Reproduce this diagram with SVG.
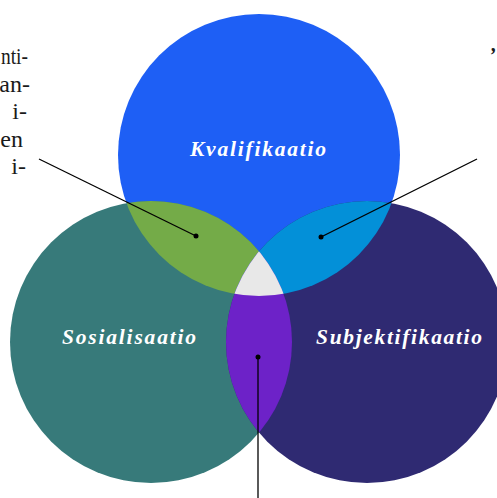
<svg xmlns="http://www.w3.org/2000/svg" width="497" height="498" viewBox="0 0 497 498">
<style>
.lbl{font-family:"Liberation Serif","DejaVu Serif",serif;font-style:italic;font-weight:bold;font-size:21.5px;fill:#ffffff;text-anchor:middle}
.side{font-family:"Liberation Serif","DejaVu Serif",serif;font-size:24px;fill:#1a1a1a;text-anchor:end}
.ln{stroke:#000;stroke-width:1.3;fill:none}
.dot{fill:#000}
</style>
<defs>
<clipPath id="cT"><circle cx="259" cy="155" r="141"/></clipPath>
<clipPath id="cL"><circle cx="151" cy="342" r="141"/></clipPath>
<clipPath id="cR"><circle cx="367" cy="342" r="141"/></clipPath>
</defs>
<rect width="497" height="498" fill="#ffffff"/>
<g id="side-text">
<text class="side" x="1" y="64" style="text-anchor:start" textLength="27" lengthAdjust="spacingAndGlyphs">nti-</text>
<text class="side" x="30" y="92">an-</text>
<text class="side" x="27" y="119">i-</text>
<text class="side" x="23" y="147">en</text>
<text class="side" x="26" y="174">i-</text>
<text x="489" y="62" style="font-family:'Liberation Serif',serif;font-size:20px;font-style:italic;font-weight:bold;fill:#1a1a1a">’</text>
</g>
<g id="kvalifikaatio"><circle cx="259" cy="155" r="141" fill="#1e5ff5"/></g>
<g id="sosialisaatio"><circle cx="151" cy="342" r="141" fill="#377a7a"/></g>
<g id="subjektifikaatio"><circle cx="367" cy="342" r="141" fill="#2f2a72"/></g>
<g id="overlap-TL" clip-path="url(#cT)"><circle cx="151" cy="342" r="141" fill="#74ab48"/></g>
<g id="overlap-TR" clip-path="url(#cT)"><circle cx="367" cy="342" r="141" fill="#0390d8"/></g>
<g id="overlap-LR" clip-path="url(#cL)"><circle cx="367" cy="342" r="141" fill="#6d22c8"/></g>
<g id="overlap-center" clip-path="url(#cT)"><g clip-path="url(#cL)"><circle cx="367" cy="342" r="141" fill="#e8e8e8"/></g></g>
<g id="labels">
<text class="lbl" x="258" y="156" textLength="136" lengthAdjust="spacing">Kvalifikaatio</text>
<text class="lbl" x="129" y="344" textLength="134" lengthAdjust="spacing">Sosialisaatio</text>
<text class="lbl" x="399" y="344" textLength="166" lengthAdjust="spacing">Subjektifikaatio</text>
</g>
<g id="connectors">
<line class="ln" x1="196" y1="236" x2="39" y2="159"/>
<circle class="dot" cx="196" cy="236" r="2.5"/>
<line class="ln" x1="321" y1="237" x2="477" y2="159"/>
<circle class="dot" cx="321" cy="237" r="2.5"/>
<line class="ln" x1="258" y1="357" x2="258" y2="498"/>
<circle class="dot" cx="258" cy="357" r="2.5"/>
</g>
</svg>
